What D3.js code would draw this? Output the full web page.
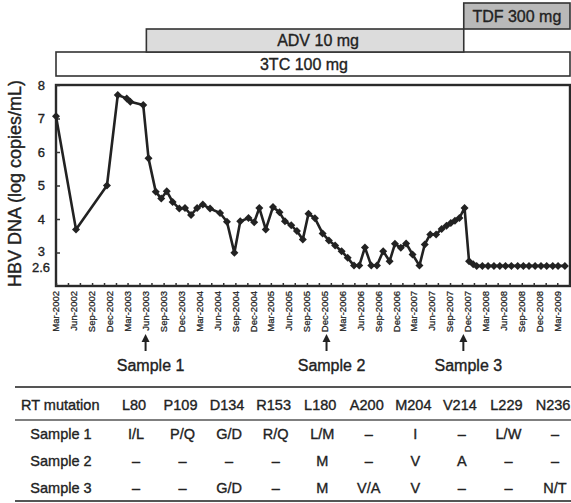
<!DOCTYPE html>
<html>
<head>
<meta charset="utf-8">
<script src="https://cdn.jsdelivr.net/npm/d3@7"></script>
<style>
  body { margin: 0; background: #fff; }
  svg { display: block; font-family: "Liberation Sans", Arial, sans-serif; }
  svg text { stroke: #222; stroke-width: 0.35px; }
</style>
</head>
<body>
<div id="chart"></div>
<script>
// HBV DNA readings (date, log copies/mL)
const sampleDates = [
  "2002-03-01","2002-06-11","2002-11-16","2003-01-10","2003-02-25","2003-03-15","2003-05-20","2003-06-16",
  "2003-07-23","2003-08-20","2003-09-17","2003-10-17","2003-11-20","2003-12-19","2004-01-19","2004-02-19",
  "2004-03-19","2004-04-25","2004-06-15","2004-07-20","2004-08-27","2004-09-26","2004-11-07","2004-12-06",
  "2005-01-01","2005-02-03","2005-03-12","2005-04-14","2005-05-12","2005-06-13","2005-07-12","2005-08-11",
  "2005-09-09","2005-10-12","2005-11-20","2005-12-22","2006-01-23","2006-02-25","2006-03-28","2006-04-29",
  "2006-05-26","2006-06-24","2006-07-26","2006-08-24","2006-09-25","2006-10-28","2006-11-24","2006-12-24",
  "2007-01-20","2007-02-22","2007-03-29","2007-04-25","2007-05-23","2007-06-22","2007-07-20","2007-08-14",
  "2007-09-05","2007-09-26","2007-10-19","2007-11-14","2007-12-07","2007-12-28",
  "2008-01-15","2008-02-13","2008-03-13","2008-04-12","2008-05-12","2008-06-10","2008-07-10","2008-08-11",
  "2008-09-09","2008-10-08","2008-11-08","2008-12-08","2009-01-06","2009-02-06","2009-03-05","2009-04-09"
];
const hbvValues = [
  7.07, 3.69, 5.00, 7.70, 7.60, 7.50, 7.40, 5.81,
  4.81, 4.61, 4.83, 4.51, 4.31, 4.33, 4.12, 4.33,
  4.43, 4.31, 4.18, 3.92, 2.99, 3.93, 4.03, 3.90,
  4.33, 3.69, 4.36, 4.20, 3.93, 3.81, 3.64, 3.39,
  4.16, 4.02, 3.57, 3.36, 3.21, 3.04, 2.84, 2.61,
  2.61, 3.15, 2.61, 2.61, 3.04, 2.74, 3.26, 3.14,
  3.27, 2.94, 2.61, 3.24, 3.54, 3.54, 3.70, 3.80,
  3.88, 3.95, 4.03, 4.33, 2.74, 2.65,
  2.6, 2.6, 2.6, 2.6, 2.6, 2.6, 2.6, 2.6,
  2.6, 2.6, 2.6, 2.6, 2.6, 2.6, 2.6, 2.6
];
const yTicks = [3, 4, 5, 6, 7, 8];
const yExtraTick = 2.6;

// treatment bars
const drugNames = ["3TC 100 mg", "ADV 10 mg", "TDF 300 mg"];
const drugStart = ["2002-03-01", "2003-06-05", "2007-11-10"];
const drugEnd = ["2009-05-05", "2007-11-10", "2009-05-05"];
const drugFill = ["#ffffff", "#dcdcdc", "#b9b9b9"];

// sampling points
const sampleNames = ["Sample 1", "Sample 2", "Sample 3"];
const sampleAt = ["2003-06-01", "2005-12-10", "2007-11-08"];

// RT mutation table
const mutations = ["L80", "P109", "D134", "R153", "L180", "A200", "M204", "V214", "L229", "N236"];
const row1 = ["I/L", "P/Q", "G/D", "R/Q", "L/M", "–", "I", "–", "L/W", "–"];
const row2 = ["–", "–", "–", "–", "M", "–", "V", "A", "–", "–"];
const row3 = ["–", "–", "G/D", "–", "M", "V/A", "V", "–", "–", "N/T"];

const W = 571, H = 503;
const plot = { left: 56, right: 570, top: 85, bottom: 286 };
const parse = d3.timeParse("%Y-%m-%d");
const data = sampleDates.map((d, i) => ({ date: parse(d), v: hbvValues[i] }));

const svg = d3.select("#chart").append("svg").attr("width", W).attr("height", H);

const x = d3.scaleTime()
  .domain([parse("2002-03-01"), parse("2009-05-05")])
  .range([plot.left, plot.right]);
const y = d3.scaleLinear().domain([2, 8]).range([plot.bottom, plot.top]);

// treatment bars
const barRows = [52, 29, 3];
const barH = [24, 23, 26];
const labelShift = [-9, 13, 0];
drugNames.forEach((name, i) => {
  const x0 = x(parse(drugStart[i])), x1 = x(parse(drugEnd[i]));
  svg.append("rect")
    .attr("x", x0).attr("y", barRows[i]).attr("width", x1 - x0).attr("height", barH[i])
    .attr("fill", drugFill[i]).attr("stroke", "#333").attr("stroke-width", 1.6);
  svg.append("text")
    .attr("x", (x0 + x1) / 2 + labelShift[i]).attr("y", barRows[i] + barH[i] / 2)
    .attr("dy", "0.36em").attr("text-anchor", "middle")
    .style("font-size", "16px").attr("fill", "#222")
    .text(name);
});

// frame
svg.append("rect")
  .attr("x", plot.left).attr("y", plot.top)
  .attr("width", plot.right - plot.left).attr("height", plot.bottom - plot.top)
  .attr("fill", "none").attr("stroke", "#2a2a2a").attr("stroke-width", 2.4);

// y axis
const yAxis = svg.append("g").attr("transform", `translate(${plot.left},0)`)
  .call(d3.axisRight(y).tickValues(yTicks).tickSize(4).tickFormat(""));
yAxis.select(".domain").remove();
yAxis.selectAll("line").attr("stroke", "#333").attr("stroke-width", 1.5);

svg.append("g").selectAll("text")
  .data(yTicks.concat([yExtraTick]))
  .join("text")
  .attr("x", d => d === yExtraTick ? 50 : 45)
  .attr("y", d => d === 3 ? y(d) - 1 : y(d) + (d === yExtraTick ? 1 : 0))
  .attr("dy", "0.36em").attr("text-anchor", "end")
  .style("font-size", "13px").attr("fill", "#222")
  .text(d => d);

svg.append("text")
  .attr("transform", `translate(21,${(plot.top + plot.bottom) / 2 - 2}) rotate(-90)`)
  .attr("text-anchor", "middle")
  .style("font-size", "18px").attr("fill", "#222")
  .text("HBV DNA (log copies/mL)");

// x axis: small inward ticks every 2 months, labels every quarter
const xAxis = svg.append("g").attr("transform", `translate(0,${plot.bottom})`)
  .call(d3.axisTop(x).tickValues(d3.timeMonth.range(parse("2002-03-01"), parse("2009-05-05"), 2))
    .tickSize(3).tickFormat(""));
xAxis.select(".domain").remove();
xAxis.selectAll("line").attr("stroke", "#333").attr("stroke-width", 1.5);

const fmt = d3.timeFormat("%b-%Y");
svg.append("g").selectAll("text")
  .data(d3.timeMonth.range(parse("2002-03-01"), parse("2009-04-01"), 3))
  .join("text")
  .attr("transform", d => `translate(${x(d)},291) rotate(-90)`)
  .attr("dy", "0.35em").attr("text-anchor", "end")
  .style("font-size", "9.5px").attr("fill", "#222")
  .style("stroke-width", "0.25px")
  .text(d => fmt(d));

// HBV DNA line and markers
const line = d3.line().x(d => x(d.date)).y(d => y(d.v));
svg.append("path").datum(data)
  .attr("fill", "none").attr("stroke", "#222").attr("stroke-width", 2.6)
  .attr("stroke-linejoin", "round").attr("d", line);

const marker = d3.symbol(d3.symbolSquare, 32);
svg.append("g").selectAll("path")
  .data(data)
  .join("path")
  .attr("transform", d => `translate(${x(d.date)},${y(d.v)}) rotate(45)`)
  .attr("d", marker).attr("fill", "#222");

// sample arrows
sampleNames.forEach((name, i) => {
  const sx = x(parse(sampleAt[i]));
  svg.append("line").attr("x1", sx).attr("x2", sx).attr("y1", 351).attr("y2", 340)
    .attr("stroke", "#222").attr("stroke-width", 2);
  svg.append("path")
    .attr("d", `M${sx},334 L${sx - 4},342 L${sx + 4},342 Z`).attr("fill", "#222");
  svg.append("text")
    .attr("x", sx + 5).attr("y", 371).attr("text-anchor", "middle")
    .style("font-size", "16px").attr("fill", "#222")
    .text(name);
});

// mutation table
const col = d3.scalePoint().domain(mutations).range([134, 553]);
const tbl = svg.append("g").style("font-size", "14.5px").attr("fill", "#222");
[387, 420, 501].forEach(ly => {
  tbl.append("line").attr("x1", 15).attr("x2", W).attr("y1", ly).attr("y2", ly)
    .attr("stroke", "#555").attr("stroke-width", ly === 420 ? 1.6 : 2);
});
tbl.append("text").attr("x", 21).attr("y", 405).attr("dy", "0.36em").text("RT mutation");
tbl.selectAll("text.head").data(mutations).join("text").attr("class", "head")
  .attr("x", d => col(d)).attr("y", 405).attr("dy", "0.36em").attr("text-anchor", "middle")
  .text(d => d);

const rows = [row1, row2, row3];
const rowY = [434, 461, 488];
rows.forEach((r, i) => {
  tbl.append("text").attr("x", 61).attr("y", rowY[i]).attr("dy", "0.36em")
    .attr("text-anchor", "middle").text(sampleNames[i]);
  tbl.append("g").selectAll("text").data(r).join("text")
    .attr("x", (d, j) => col(mutations[j]) + 2).attr("y", rowY[i]).attr("dy", "0.36em")
    .attr("text-anchor", "middle").text(d => d);
});
</script>
</body>
</html>
